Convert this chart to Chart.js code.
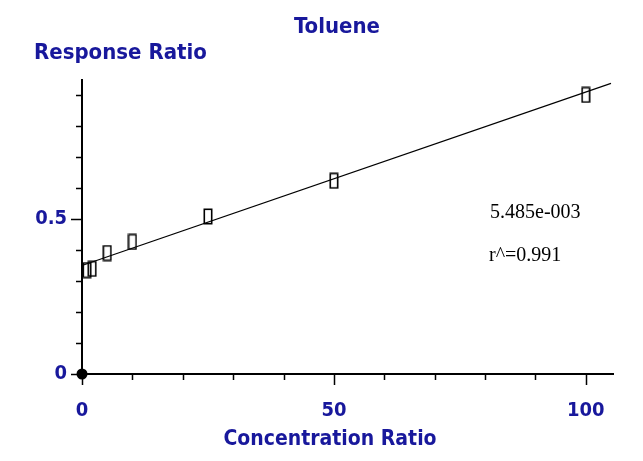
<!DOCTYPE html>
<html>
<head>
<meta charset="utf-8">
<script src="https://cdn.jsdelivr.net/npm/chart.js@4/dist/chart.umd.min.js"></script>
<style>
  html, body { margin: 0; padding: 0; background: #ffffff; }
  #wrap { width: 643px; height: 461px; }
</style>
</head>
<body>
<div id="wrap"><canvas id="cal" width="643" height="461"></canvas></div>
<script>
// Calibration standards: concentration ratio vs. response ratio
const concRatio = [1, 2, 5, 10, 25, 50, 100];
const respRatio = [0.335, 0.339, 0.390, 0.426, 0.508, 0.623, 0.900];

// Calibration curve end points
const fitX = [0, 105];
const fitY = [0.350, 0.937];

// Origin marker
const originX = [0];
const originY = [0];

// Labelled tick values
const xTickLabels = [0, 50, 100];
const yTickLabels = [0, 0.5];

// Curve statistics shown on the plot
const statLines = ['5.485e-003', 'r^=0.991'];

const chartTitle = 'Toluene';
const yTitle = 'Response Ratio';
const xTitle = 'Concentration Ratio';

const BLUE = '#18189c';
const FAMILY = "'DejaVu Sans Condensed', 'DejaVu Sans', sans-serif";

function toPoints(xs, ys) { return xs.map((x, i) => ({ x: x, y: ys[i] })); }
function hasValue(list, v) { return list.some(t => Math.abs(t - v) < 1e-6); }

// Open rectangle marker for the standards
const rectMarker = document.createElement('canvas');
rectMarker.width = 10; rectMarker.height = 17;
(function () {
  const c = rectMarker.getContext('2d');
  c.strokeStyle = '#000';
  c.lineWidth = 1.6;
  c.strokeRect(1.3, 1.3, 7.4, 14.4);
})();

// Tick marks: long at labelled values, short elsewhere
const tickMarks = {
  id: 'tickMarks',
  afterDraw(chart) {
    const ctx = chart.ctx;
    const xs = chart.scales.x, ys = chart.scales.y;
    const area = chart.chartArea;
    ctx.save();
    ctx.strokeStyle = '#000';
    ctx.lineWidth = 1.5;
    ctx.beginPath();
    xs.ticks.forEach(t => {
      const px = Math.round(xs.getPixelForValue(t.value)) + 0.5;
      const len = hasValue(xTickLabels, t.value) ? 11 : 6;
      ctx.moveTo(px, area.bottom);
      ctx.lineTo(px, area.bottom + len);
    });
    ys.ticks.forEach(t => {
      const py = Math.round(ys.getPixelForValue(t.value)) + 0.5;
      const len = hasValue(yTickLabels, t.value) ? 11 : 6;
      ctx.moveTo(area.left, py);
      ctx.lineTo(area.left - len, py);
    });
    ctx.stroke();
    ctx.restore();
  }
};

// Titles and curve statistics
const textLayer = {
  id: 'textLayer',
  afterDraw(chart) {
    const ctx = chart.ctx;
    ctx.save();
    ctx.fillStyle = BLUE;
    ctx.font = "bold 22px " + FAMILY;
    ctx.textBaseline = 'middle';
    ctx.textAlign = 'center';
    ctx.fillText(chartTitle, 337, 27);
    ctx.font = "bold 21px " + FAMILY;
    ctx.fillText(xTitle, 330, 440);
    ctx.font = "bold 22px " + FAMILY;
    ctx.textAlign = 'left';
    ctx.fillText(yTitle, 34, 53);

    ctx.fillStyle = '#000';
    ctx.font = "20px 'Liberation Serif', 'Times New Roman', serif";
    ctx.fillText(statLines[0], 490, 213);
    ctx.fillText(statLines[1], 489, 256);
    ctx.restore();
  }
};

new Chart(document.getElementById('cal'), {
  type: 'scatter',
  data: {
    datasets: [
      {
        type: 'line',
        data: toPoints(fitX, fitY),
        borderColor: '#000',
        borderWidth: 1.2,
        pointRadius: 0,
        fill: false,
        clip: false,
        order: 3
      },
      {
        data: toPoints(concRatio, respRatio),
        pointStyle: rectMarker,
        pointRadius: 8,
        clip: false,
        order: 2
      },
      {
        data: toPoints(originX, originY),
        pointStyle: 'circle',
        pointRadius: 5.5,
        backgroundColor: '#000',
        borderColor: '#000',
        borderWidth: 0,
        clip: false,
        order: 1
      }
    ]
  },
  options: {
    responsive: false,
    animation: false,
    events: [],
    layout: { padding: { left: 0, top: 80, right: 30, bottom: 0 } },
    plugins: {
      legend: { display: false },
      tooltip: { enabled: false },
      title: { display: false }
    },
    scales: {
      x: {
        type: 'linear',
        min: 0,
        max: 105.4,
        afterFit(scale) { scale.height = 87; },
        grid: { drawOnChartArea: false, drawTicks: false },
        border: { display: true, color: '#000', width: 2 },
        ticks: {
          stepSize: 10,
          includeBounds: false,
          autoSkip: false,
          maxRotation: 0,
          padding: 25,
          color: BLUE,
          font: { family: FAMILY, size: 20, weight: 'bold' },
          callback: v => hasValue(xTickLabels, v) ? String(Math.round(v)) : ''
        }
      },
      y: {
        type: 'linear',
        min: 0,
        max: 0.948,
        afterFit(scale) { scale.width = 82; },
        grid: { drawOnChartArea: false, drawTicks: false },
        border: { display: true, color: '#000', width: 2 },
        ticks: {
          stepSize: 0.1,
          includeBounds: false,
          autoSkip: false,
          padding: 15,
          color: BLUE,
          font: { family: FAMILY, size: 20, weight: 'bold' },
          callback: v => hasValue(yTickLabels, v) ? (Math.abs(v) < 1e-6 ? '0' : '0.5') : ''
        }
      }
    }
  },
  plugins: [tickMarks, textLayer]
});
</script>
</body>
</html>
